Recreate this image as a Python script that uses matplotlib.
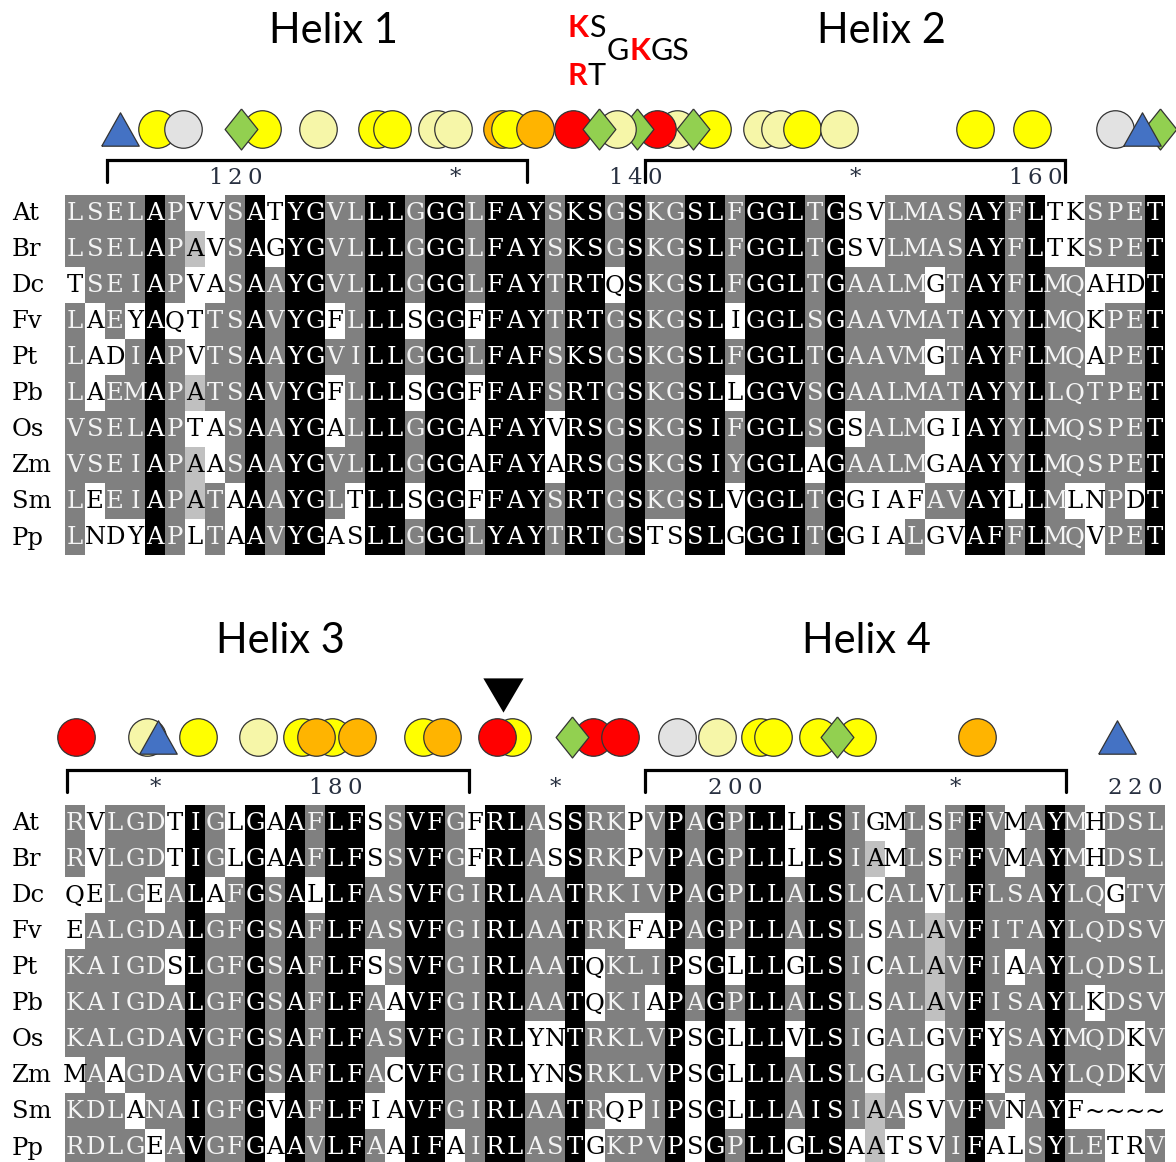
import matplotlib
matplotlib.use('Agg')
import matplotlib.pyplot as plt

species = ['At', 'Br', 'Dc', 'Fv', 'Pt', 'Pb', 'Os', 'Zm', 'Sm', 'Pp']

# alignment, two blocks of 55 columns
seq_top = [
    'LSELAPVVSATYGVLLLGGGLFAYSKSGSKGSLFGGLTGSVLMASAYFLTKSPET',
    'LSELAPAVSAGYGVLLLGGGLFAYSKSGSKGSLFGGLTGSVLMASAYFLTKSPET',
    'TSEIAPVASAAYGVLLLGGGLFAYTRTQSKGSLFGGLTGAALMGTAYFLMQAHDT',
    'LAEYAQTTSAVYGFLLLSGGFFAYTRTGSKGSLIGGLSGAAVMATAYYLMQKPET',
    'LADIAPVTSAAYGVILLGGGLFAFSKSGSKGSLFGGLTGAAVMGTAYFLMQAPET',
    'LAEMAPATSAVYGFLLLSGGFFAFSRTGSKGSLLGGVSGAALMATAYYLLQTPET',
    'VSELAPTASAAYGALLLGGGAFAYVRSGSKGSIFGGLSGSALMGIAYYLMQSPET',
    'VSEIAPAASAAYGVLLLGGGAFAYARSGSKGSIYGGLAGAALMGAAYYLMQSPET',
    'LEEIAPATAAAYGLTLLSGGFFAYSRTGSKGSLVGGLTGGIAFAVAYLLMLNPDT',
    'LNDYAPLTAAVYGASLLGGGLYAYTRTGSTSSLGGGITGGIALGVAFFLMQVPET',
]
seq_bot = [
    'RVLGDTIGLGAAFLFSSVFGFRLASSRKPVPAGPLLLLSIGMLSFFVMAYMHDSL',
    'RVLGDTIGLGAAFLFSSVFGFRLASSRKPVPAGPLLLLSIAMLSFFVMAYMHDSL',
    'QELGEALAFGSALLFASVFGIRLAATRKIVPAGPLLALSLCALVLFLSAYLQGTV',
    'EALGDALGFGSAFLFASVFGIRLAATRKFAPAGPLLALSLSALAVFITAYLQDSV',
    'KAIGDSLGFGSAFLFSSVFGIRLAATQKLIPSGLLLGLSICALAVFIAAYLQDSL',
    'KAIGDALGFGSAFLFAAVFGIRLAATQKIAPAGPLLALSLSALAVFISAYLKDSV',
    'KALGDAVGFGSAFLFASVFGIRLYNTRKLVPSGLLLVLSIGALGVFYSAYMQDKV',
    'MAAGDAVGFGSAFLFACVFGIRLYNSRKLVPSGLLLALSLGALGVFYSAYLQDKV',
    'KDLANAIGFGVAFLFIAVFGIRLAATRQPIPSGLLLAISIAASVVFVNAYF~~~~',
    'RDLGEAVGFGAAVLFAAIFAIRLASTGKPVPSGPLLGLSAATSVIFALSYLETRV',
]

# shading per column, rows At..Pp: k black, g dark grey, l light grey, w none
shade_top = [
    'ggwggggggg', 'gggwwwggww', 'ggggwggggw', 'gggwgggggw', 'kkkkkkkkkk',
    'gggwgggggg', 'wlwwwlwllw', 'wwwgggwwgg', 'ggggggggww', 'kkkkkkkkkk',
    'wwgggggggg', 'kkkkkkkkkk', 'kkkkkkkkkk', 'gggwgwwggw', 'ggggggggww',
    'kkkkkkkkkk', 'kkkkkkkkkk', 'gggwgwggwg', 'kkkkkkkkkk', 'kkkkkkkkkk',
    'gggwgwwwwg', 'kkkkkkkkkk', 'kkkkkkkkkk', 'kkkkkkkkkk', 'ggggggwwgg',
    'kkkkkkkkkk', 'kkkkkkkkkk', 'ggwggggggg', 'kkkkkkkkkk', 'gggggggggw',
    'gggggggggw', 'kkkkkkkkkk', 'kkkkkkkkkk', 'gggwgwggww', 'kkkkkkkkkk',
    'kkkkkkkkkk', 'kkkkkkkkkk', 'gggggggwgg', 'kkkkkkkkkk', 'wwggggwgww',
    'wwggggggww', 'ggggggggww', 'ggggggggwg', 'ggwgwgwwgw', 'ggggggwwgw',
    'kkkkkkkkkk', 'kkkkkkkkkk', 'ggggggggwg', 'kkkkkkkkkk', 'wwgggggggg',
    'wwggggggwg', 'ggwwwgggww', 'ggwggggggg', 'ggwgggggwg', 'kkkkkkkkkk',
]
shade_bot = [
    'ggwwgggwgg', 'wwwggggggg', 'gggggggwgg', 'ggggggggwg', 'ggwggggggw',
    'wwggwggggg', 'kkkkkkkkkk', 'ggwggggggg', 'wwgggggggg', 'kkkkkkkkkk',
    'wwggggggww', 'kkkkkkkkkk', 'ggwggggggg', 'kkkkkkkkkk', 'kkkkkkkkkk',
    'wwggwgggwg', 'gggggwgwww', 'kkkkkkkkkk', 'kkkkkkkkkk', 'gggggggggw',
    'wwgggggggg', 'kkkkkkkkkk', 'kkkkkkkkkk', 'ggggggwwgg', 'wwggggwwgg',
    'kkkkkkkkkk', 'ggggwwgggw', 'ggggggggwg', 'wwgwggggwg', 'gggwgwgggg',
    'kkkkkkkkkk', 'ggggwgwwww', 'kkkkkkkkkk', 'ggggwgwwwg', 'kkkkkkkkkk',
    'kkkkkkkkkk', 'wwggwgwggw', 'kkkkkkkkkk', 'kkkkkkkkkk', 'gggggggggw',
    'wlwwwwwwll', 'wwgggggggw', 'ggggggggww', 'wwwlllwwww', 'gggggggggg',
    'kkkkkkkkkk', 'ggggggwwgw', 'wwggwgggww', 'gggggggggg', 'kkkkkkkkkk',
    'ggggggggwg', 'wwgggwggwg', 'ggwgggggww', 'ggggggwwww', 'ggggggggwg',
]

# ruler marks: (column of last digit, label)
ruler_top = [(9, '120'), (19, '*'), (29, '140'), (39, '*'), (49, '160')]
ruler_bot = [(4, '*'), (14, '180'), (24, '*'), (34, '200'), (44, '*'), (54, '220')]

# helices: (name, first col, last col, label col)
helix_top = [('Helix 1', 2.1, 23.1, 13.4), ('Helix 2', 29.0, 50.0, 40.8)]
helix_bot = [('Helix 3', 0.1, 20.2, 10.75), ('Helix 4', 29.0, 50.05, 40.05)]

# residue annotations (column position, kind), in drawing order
sym_top = [(2.75, 'tri'), (4.6, 'yellow'), (5.9, 'grey'), (9.85, 'yellow'), (8.8, 'diamond'),
           (12.65, 'pale'), (15.6, 'yellow'), (16.35, 'yellow'), (18.6, 'pale'), (19.4, 'pale'),
           (21.85, 'orange'), (22.25, 'yellow'), (23.5, 'orange'), (30.6, 'pale'), (29.6, 'red'),
           (28.6, 'diamond'), (25.4, 'red'), (27.6, 'pale'), (26.7, 'diamond'), (32.35, 'yellow'),
           (31.4, 'diamond'), (34.85, 'pale'), (35.75, 'pale'), (36.85, 'yellow'), (38.7, 'pale'),
           (45.5, 'yellow'), (48.35, 'yellow'), (52.5, 'grey'), (54.75, 'diamond'), (53.85, 'tri')]
sym_bot = [(0.55, 'red'), (4.1, 'pale'), (4.65, 'tri'), (6.65, 'yellow'), (9.65, 'pale'),
           (11.85, 'yellow'), (13.35, 'yellow'), (12.55, 'orange'), (14.6, 'orange'),
           (17.9, 'yellow'), (18.85, 'orange'), (22.35, 'yellow'), (21.6, 'red'),
           (26.4, 'red'), (27.75, 'red'), (25.35, 'diamond'), (30.6, 'grey'), (32.6, 'pale'),
           (34.75, 'yellow'), (35.4, 'yellow'), (37.65, 'yellow'), (39.6, 'yellow'),
           (38.6, 'diamond'), (45.6, 'orange'), (52.6, 'tri')]
site_bot = 21.9  # black arrowhead

cell_col = {'k': '#000000', 'g': '#808080', 'l': '#c0c0c0', 'w': '#ffffff'}
txt_col = {'k': '#ffffff', 'g': '#f4f4f4', 'l': '#000000', 'w': '#000000'}
sym_fill = {'yellow': '#ffff00', 'pale': '#f6f6a8', 'orange': '#ffb400', 'red': '#ff0000',
            'grey': '#e2e2e2', 'diamond': '#92d050', 'tri': '#4472c4'}
circle_path = 'o'
diamond_path = [(0, 1), (0.8, 0), (0, -1), (-0.8, 0), (0, 1)]
tri_path = [(-1, -0.89), (1, -0.89), (0, 0.89), (-1, -0.89)]
down_path = [(-1, 0.85), (1, 0.85), (0, -0.85), (-1, 0.85)]

seq_font = 'DejaVu Serif'
seq_size = 17.5
CELL_H = 36

fig = plt.figure(figsize=(11.76, 11.62), dpi=100)
ax = fig.add_axes([0, 0, 1, 1])
ax.set_xlim(-3.25, 55.55)
ax.set_ylim(1162, 0)
ax.axis('off')
renderer = fig.canvas.get_renderer()


def rich_text(x, y, parts, size):
    for s, col, w in parts:
        t = ax.text(x, y, s, color=col, fontweight=w, fontsize=size, family='Lato',
                    ha='left', va='baseline')
        bb = t.get_window_extent(renderer=renderer)
        x0, y0 = ax.transData.transform((x, y))
        x = ax.transData.inverted().transform((x0 + bb.width, y0))[0]


def draw_block(y0, seqs, shade_cols, ruler, helices, syms, sym_dy):
    nrow = len(seqs)
    rows = [''.join(c[i] for c in shade_cols) for i in range(nrow)]
    cols = list(range(len(shade_cols)))
    for r in range(nrow):
        ytop = y0 + r * CELL_H
        ax.bar(cols, CELL_H, bottom=ytop, width=1, align='edge',
               color=[cell_col[s] for s in rows[r]], linewidth=0, antialiased=False)
        for c, ch in enumerate(seqs[r]):
            ax.text(c + 0.5, ytop + CELL_H / 2 + 1, ch, ha='center', va='center',
                    family=seq_font, fontsize=seq_size, color=txt_col[rows[r][c]])
        ax.text(-2.65, ytop + CELL_H / 2 + 1, species[r], ha='left', va='center',
                family=seq_font, fontsize=seq_size, color='black')
    # ruler
    for c, lab in ruler:
        for k, d in enumerate(lab):
            ax.text(c - len(lab) + 1 + k + 0.5, y0 - 17, d, ha='center', va='center',
                    family=seq_font, fontsize=seq_size - 1, color='#283040')
    # helix brackets and names
    for name, a, b, xl in helices:
        ax.plot([a, a, b, b], [y0 - 13, y0 - 35, y0 - 35, y0 - 13], color='black',
                lw=2.3, solid_capstyle='round', solid_joinstyle='miter')
        ax.text(xl, y0 - 152, name, ha='center', va='baseline', family='Lato',
                fontsize=30, color='black')
    # residue symbols
    for z, (x, kind) in enumerate(syms):
        if kind == 'diamond':
            m, sz = diamond_path, 29.5
        elif kind == 'tri':
            m, sz = tri_path, 27
        else:
            m, sz = circle_path, 27
        ax.scatter([x], [y0 + sym_dy], s=sz ** 2, marker=m, c=sym_fill[kind],
                   edgecolors='#333333', linewidths=0.9, zorder=3 + z * 0.01)


draw_block(195, seq_top, shade_top, ruler_top, helix_top, sym_top, -66)
draw_block(805, seq_bot, shade_bot, ruler_bot, helix_bot, sym_bot, -68)

ax.scatter([site_bot], [805 - 110], s=29 ** 2, marker=down_path, c='black',
           linewidths=0, zorder=4)

rich_text(25.15, 195 - 158, [('K', '#ff0000', 'bold'), ('S', 'black', 'normal')], 22)
rich_text(27.1, 195 - 135, [('G', 'black', 'normal'), ('K', '#ff0000', 'bold'),
                            ('GS', 'black', 'normal')], 22)
rich_text(25.15, 195 - 110, [('R', '#ff0000', 'bold'), ('T', 'black', 'normal')], 22)

fig.savefig('out.png', dpi=100)
